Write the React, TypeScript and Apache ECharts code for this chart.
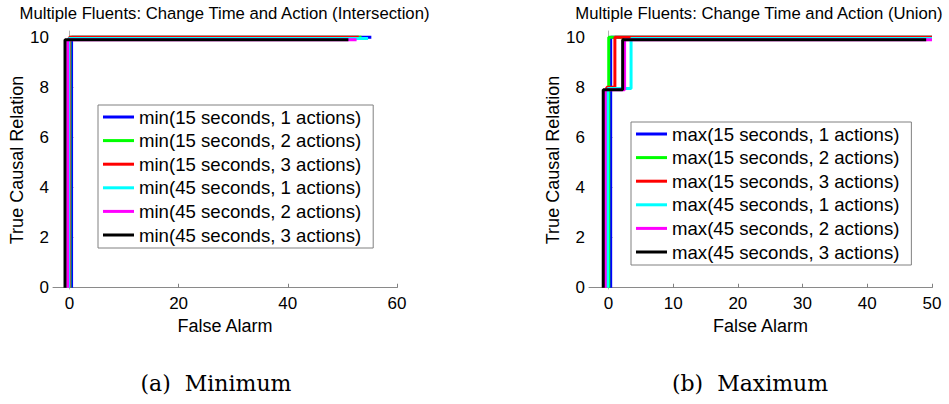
import React, { useEffect, useRef } from "react";
import * as echarts from "echarts";

const FONT = '"Liberation Sans", Arial, Helvetica, sans-serif';
const SERIF = '"DejaVu Serif", "Liberation Serif", serif';

const colors = ["#0000ff", "#00ff00", "#ff0000", "#00ffff", "#ff00ff", "#000000"];

const minNames = [
  "min(15 seconds, 1 actions)",
  "min(15 seconds, 2 actions)",
  "min(15 seconds, 3 actions)",
  "min(45 seconds, 1 actions)",
  "min(45 seconds, 2 actions)",
  "min(45 seconds, 3 actions)",
];
const maxNames = [
  "max(15 seconds, 1 actions)",
  "max(15 seconds, 2 actions)",
  "max(15 seconds, 3 actions)",
  "max(45 seconds, 1 actions)",
  "max(45 seconds, 2 actions)",
  "max(45 seconds, 3 actions)",
];

// [False Alarm, True Causal Relation] step points
const minBlue = [[0.4, 0], [0.4, 10], [55.3, 10]];
const minGreen = [[0.1, 0], [0.1, 10], [53.5, 10]];
const minRed = [[0.0, 0], [0.0, 10], [53, 10]];
const minCyan = [[-0.1, 0], [-0.1, 9.95], [54.7, 9.95]];
const minMagenta = [[-0.3, 0], [-0.3, 9.9], [52.6, 9.9]];
const minBlack = [[-0.8, 0], [-0.8, 9.9], [51.1, 9.9]];

const maxBlue = [[0.35, 0], [0.35, 10], [50, 10]];
const maxGreen = [[0.05, 0], [0.05, 10], [50, 10]];
const maxRed = [[-0.25, 0], [-0.25, 8], [1.0, 8], [1.0, 10], [50, 10]];
const maxCyan = [[-0.1, 0], [-0.1, 7.95], [3.5, 7.95], [3.5, 9.95], [50, 9.95]];
const maxMagenta = [[-0.5, 0], [-0.5, 7.9], [2.5, 7.9], [2.5, 9.9], [50, 9.9]];
const maxBlack = [[-0.8, 0], [-0.8, 7.9], [2.2, 7.9], [2.2, 9.9], [49.1, 9.9]];

const minSeriesData = [minBlue, minGreen, minRed, minCyan, minMagenta, minBlack];
const maxSeriesData = [maxBlue, maxGreen, maxRed, maxCyan, maxMagenta, maxBlack];

const xTicksMin = [0, 20, 40, 60];
const xTicksMax = [0, 10, 20, 30, 40, 50];
const yTicks = [0, 2, 4, 6, 8, 10];

const titleMin = "Multiple Fluents: Change Time and Action (Intersection)";
const titleMax = "Multiple Fluents: Change Time and Action (Union)";
const captionMin = "(a)  Minimum";
const captionMax = "(b)  Maximum";
const xName = "False Alarm";
const yName = "True Causal Relation";

function axisBase(ticks: number[], lineColor: string, margin: number) {
  return {
    type: "value" as const,
    axisLine: { show: true, lineStyle: { color: lineColor, width: 1 } },
    axisTick: {
      show: true,
      inside: true,
      length: 4,
      customValues: ticks,
      lineStyle: { color: "#808080" },
    },
    axisLabel: {
      customValues: ticks,
      color: "#000",
      fontSize: 17,
      fontFamily: FONT,
      margin,
    },
    splitLine: { show: false },
    nameTextStyle: { color: "#000", fontSize: 18, fontFamily: FONT },
  };
}

export default function App() {
  const ref = useRef<HTMLDivElement>(null);
  useEffect(() => {
    if (!ref.current) return;
    const chart = echarts.init(ref.current, undefined, { renderer: "svg" });

    const series: any[] = [];
    minSeriesData.forEach((d, i) => {
      series.push({
        type: "line",
        name: minNames[i],
        xAxisIndex: 0,
        yAxisIndex: 0,
        data: d,
        symbol: "none",
        lineStyle: { color: colors[i], width: 3 },
        itemStyle: { color: colors[i] },
        z: 2 + i,
      });
    });
    maxSeriesData.forEach((d, i) => {
      series.push({
        type: "line",
        name: maxNames[i],
        xAxisIndex: 1,
        yAxisIndex: 1,
        data: d,
        symbol: "none",
        lineStyle: { color: colors[i], width: 3 },
        itemStyle: { color: colors[i] },
        z: 2 + i,
      });
    });

    const legendBase = {
      orient: "vertical" as const,
      icon: "rect",
      itemWidth: 31,
      itemHeight: 3,
      itemGap: 3.6,
      padding: [2, 12, 3, 5],
      borderColor: "#808080",
      borderWidth: 1,
      backgroundColor: "#fff",
      selectedMode: false,
      textStyle: { color: "#000", fontSize: 18.6, lineHeight: 20, fontFamily: FONT },
      z: 20,
    };

    chart.setOption({
      animation: false,
      backgroundColor: "#fff",
      grid: [
        { left: 53, top: 31, width: 344, height: 258, outerBoundsMode: "none" },
        { left: 589, top: 31, width: 343, height: 258, outerBoundsMode: "none" },
      ],
      xAxis: [
        {
          ...axisBase(xTicksMin, "#8a8a8a", 6),
          gridIndex: 0,
          min: -3,
          max: 60,
          name: xName,
          nameLocation: "middle",
          nameGap: 24,
        },
        {
          ...axisBase(xTicksMax, "#8a8a8a", 6),
          gridIndex: 1,
          min: -3,
          max: 50,
          name: xName,
          nameLocation: "middle",
          nameGap: 24,
        },
      ],
      yAxis: [
        {
          ...axisBase(yTicks, "#b0b0b0", 4),
          gridIndex: 0,
          min: -0.05,
          max: 10.25,
          name: yName,
          nameLocation: "middle",
          nameGap: 27,
        },
        {
          ...axisBase(yTicks, "#b0b0b0", 4),
          gridIndex: 1,
          min: -0.05,
          max: 10.25,
          name: yName,
          nameLocation: "middle",
          nameGap: 27,
        },
      ],
      legend: [
        { ...legendBase, data: minNames, left: 98, top: 105 },
        { ...legendBase, data: maxNames, left: 631, top: 122 },
      ],
      graphic: [
        {
          type: "text",
          x: 224.5,
          y: 13,
          style: {
            text: titleMin,
            fontSize: 16.7,
            fontFamily: FONT,
            fill: "#000",
            align: "center",
            verticalAlign: "middle",
          },
        },
        {
          type: "text",
          x: 759,
          y: 13,
          style: {
            text: titleMax,
            fontSize: 16.7,
            fontFamily: FONT,
            fill: "#000",
            align: "center",
            verticalAlign: "middle",
          },
        },
        {
          type: "text",
          x: 216,
          y: 383,
          style: {
            text: captionMin,
            fontSize: 22,
            fontFamily: SERIF,
            fill: "#000",
            align: "center",
            verticalAlign: "middle",
          },
        },
        {
          type: "text",
          x: 750,
          y: 383,
          style: {
            text: captionMax,
            fontSize: 22,
            fontFamily: SERIF,
            fill: "#000",
            align: "center",
            verticalAlign: "middle",
          },
        },
      ],
      series,
    });
    return () => chart.dispose();
  }, []);
  return (
    <div
      ref={ref}
      style={{ position: "absolute", left: 0, top: 0, width: 949, height: 404, background: "#fff" }}
    />
  );
}
